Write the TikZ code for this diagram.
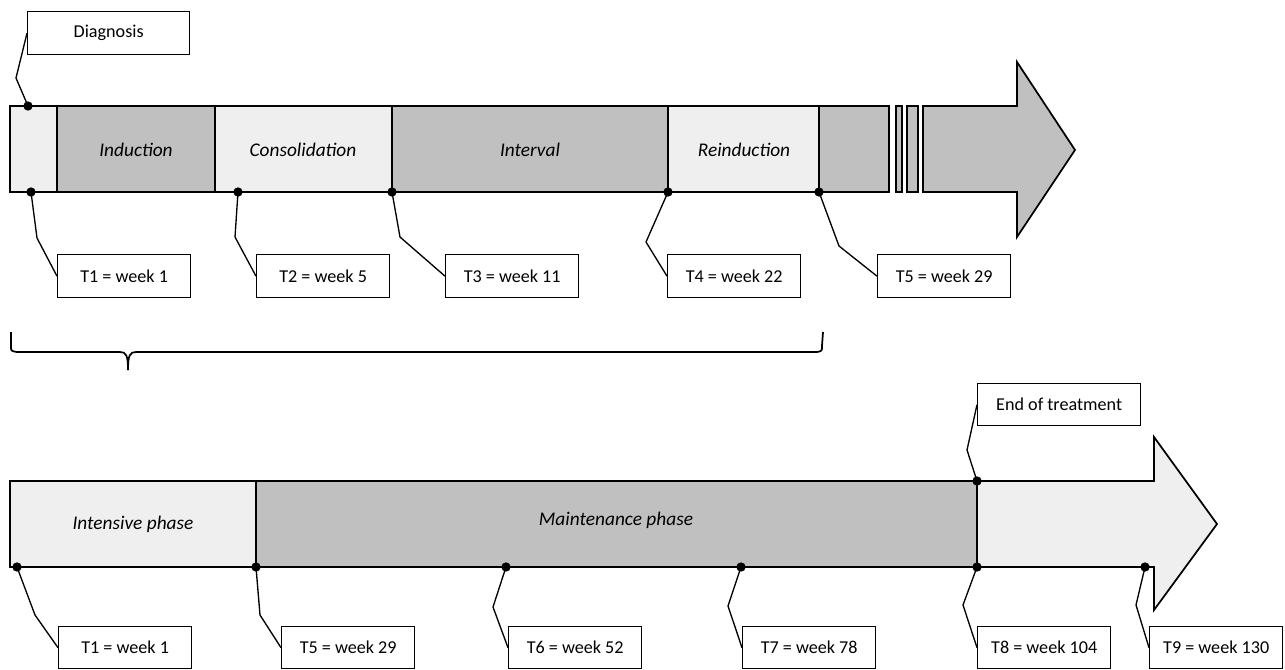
\documentclass[tikz,border=0pt]{standalone}
\usepackage{fontspec}
\setmainfont{Carlito}
\definecolor{phasedark}{RGB}{192,192,192}
\definecolor{phaselight}{RGB}{239,239,239}

\begin{document}
\begin{tikzpicture}[x=0.75pt,y=-0.75pt,
	tbox/.style={draw,line width=1pt,fill=white,anchor=north west,inner sep=0pt,
		minimum width=99.75pt,minimum height=32.25pt,font=\fontsize{13.6}{16}\selectfont},
	phase/.style={font=\fontsize{14.5}{17}\selectfont\itshape},
	bar/.style={draw,line width=1.3pt},
	lead/.style={line width=1pt},
	dot/.style={circle,fill,inner sep=0pt,minimum size=7pt}]
	\useasboundingbox (0,0) rectangle (1285,669);

	% upper timeline
	\draw[bar,fill=phaselight] (10,106) rectangle (57,192);
	\draw[bar,fill=phasedark] (57,106) rectangle (215,192);
	\draw[bar,fill=phaselight] (215,106) rectangle (392,192);
	\draw[bar,fill=phasedark] (392,106) rectangle (668,192);
	\draw[bar,fill=phaselight] (668,106) rectangle (819,192);
	\draw[bar,fill=phasedark] (819,106) rectangle (889,192);
	\draw[bar,fill=phasedark] (896,106) rectangle (902,192);
	\draw[bar,fill=phasedark] (907,106) rectangle (918,192);
	\draw[bar,fill=phasedark] (923,106) -- (1017,106) -- (1017,62) -- (1075,150)
		-- (1017,237) -- (1017,192) -- (923,192) -- cycle;
	\node[phase] (induction) at (136,150) {Induction};
	\node[phase] (consol) at (303,150) {Consolidation};
	\node[phase] (interval) at (530,150) {Interval};
	\node[phase] (reind) at (744,150) {Reinduction};

	\node[tbox,minimum width=121.5pt] (diag) at (27,11) {Diagnosis};
	\node[tbox] (ta1) at (57,254) {T1 = week 1};
	\node[tbox] (ta2) at (256,254) {T2 = week 5};
	\node[tbox] (ta3) at (445,254) {T3 = week 11};
	\node[tbox] (ta4) at (667,254) {T4 = week 22};
	\node[tbox] (ta5) at (877,254) {T5 = week 29};

	\node[dot] (da0) at (28,106) {};
	\node[dot] (da1) at (31,192) {};
	\node[dot] (da2) at (238,192) {};
	\node[dot] (da3) at (392,192) {};
	\node[dot] (da4) at (668,192) {};
	\node[dot] (da5) at (819,192) {};

	\draw[lead] (diag.west) -- (16,78) -- (da0.center);
	\draw[lead] (ta1.west) -- (37,238) -- (da1.center);
	\draw[lead] (ta2.west) -- (235,237) -- (da2.center);
	\draw[lead] (ta3.west) -- (400,237) -- (da3.center);
	\draw[lead] (ta4.west) -- (646,242) -- (da4.center);
	\draw[lead] (ta5.west) -- (839,246) -- (da5.center);

	% brace
	\draw[line width=1.3pt] (11,332) -- (11,346) .. controls (11,351) .. (17,352) -- (120,352)
		.. controls (126,352) and (128,355) .. (128,370);
	\draw[line width=1.3pt] (128,370) .. controls (128,355) and (130,352) .. (136,352) -- (817,352)
		.. controls (822,351) .. (822,346) -- (823,332);

	% lower timeline
	\draw[bar,fill=phaselight] (977,481) -- (1154,481) -- (1154,437) -- (1217,524)
		-- (1154,610) -- (1154,567) -- (977,567) -- cycle;
	\draw[bar,fill=phaselight] (10,481) rectangle (256,567);
	\draw[bar,fill=phasedark] (256,481) rectangle (977,567);
	\node[phase] (intens) at (133,524) {Intensive phase};
	\node[phase] (maint) at (616,520) {Maintenance phase};

	\node[tbox,minimum width=122.25pt,minimum height=31.5pt] (eot) at (977,383) {End of treatment};
	\node[tbox,minimum height=31.5pt] (tb1) at (58,626) {T1 = week 1};
	\node[tbox,minimum height=31.5pt] (tb5) at (281,626) {T5 = week 29};
	\node[tbox,minimum height=31.5pt] (tb6) at (508,626) {T6 = week 52};
	\node[tbox,minimum height=31.5pt] (tb7) at (742,626) {T7 = week 78};
	\node[tbox,minimum height=31.5pt] (tb8) at (977,626) {T8 = week 104};
	\node[tbox,minimum height=31.5pt] (tb9) at (1149,626) {T9 = week 130};

	\node[dot] (db0) at (977,481) {};
	\node[dot] (db1) at (17,567) {};
	\node[dot] (db5) at (256,567) {};
	\node[dot] (db6) at (506,567) {};
	\node[dot] (db7) at (741,567) {};
	\node[dot] (db8) at (977,567) {};
	\node[dot] (db9) at (1145,567) {};

	\draw[lead] (eot.west) -- (967,450) -- (db0.center);
	\draw[lead] (tb1.west) -- (35,615) -- (db1.center);
	\draw[lead] (tb5.west) -- (260,615) -- (db5.center);
	\draw[lead] (tb6.west) -- (493,607) -- (db6.center);
	\draw[lead] (tb7.west) -- (728,606) -- (db7.center);
	\draw[lead] (tb8.west) -- (963,605) -- (db8.center);
	\draw[lead] (tb9.west) -- (1136,605) -- (db9.center);
\end{tikzpicture}
\end{document}
